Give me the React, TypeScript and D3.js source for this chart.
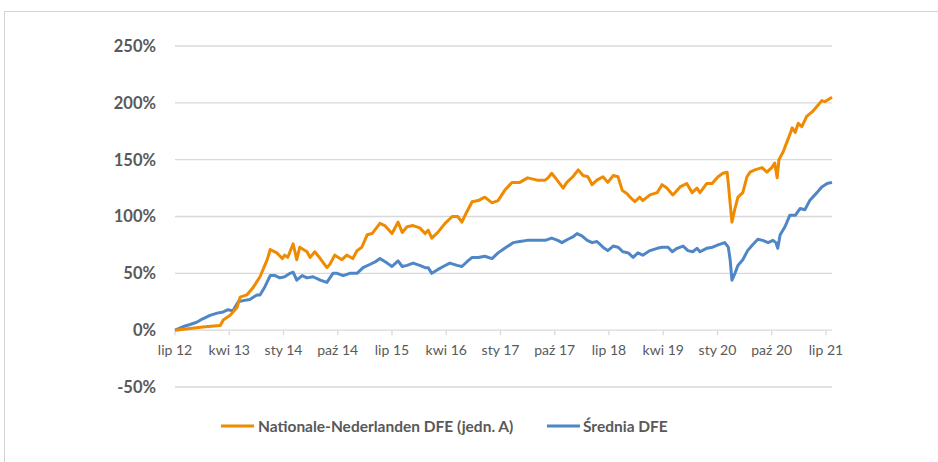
import React from "react";
import * as d3 from "d3";

// month index: 0 = lip 2012 (July 2012)
const nnSeries: [number, number][] = [
  [0, 0], [2.5, 1.5], [5.0, 3], [7.5, 4], [8.0, 9], [9.1, 13], [10.3, 20], [10.8, 29],
  [11.9, 31], [12.9, 37], [14.1, 47], [15.3, 62], [15.8, 71], [16.9, 68], [17.8, 63],
  [18.2, 66], [18.7, 64], [19.6, 76], [20.2, 62], [20.7, 73], [21.9, 69], [22.4, 64],
  [23.2, 69], [24.1, 63], [25.2, 55], [25.7, 58], [26.5, 66], [27.7, 62], [28.5, 66],
  [29.5, 63], [30.2, 70], [31.0, 73], [31.9, 84], [32.7, 85], [34.0, 94], [34.8, 92],
  [36.0, 85], [37.0, 95], [37.7, 86], [38.5, 91], [39.5, 92], [40.6, 90], [41.5, 85],
  [42.0, 88], [42.6, 81], [43.6, 86], [44.8, 94], [46.0, 100], [46.9, 100], [47.6, 95],
  [48.4, 104], [49.3, 113], [50.3, 114], [51.4, 117], [52.6, 112], [53.6, 114],
  [54.7, 123], [55.9, 130], [57.2, 130], [58.5, 134], [60.1, 132], [61.4, 132],
  [61.9, 134], [62.5, 138], [63.4, 132], [64.4, 125], [65.0, 130], [66.0, 135],
  [66.9, 141], [67.7, 136], [68.5, 135], [69.2, 128], [70.0, 132], [71.0, 135],
  [71.8, 130], [72.7, 136], [73.5, 135], [74.2, 123], [75.0, 120], [75.5, 117],
  [76.3, 113], [77.1, 117], [77.6, 114], [78.8, 119], [80.0, 121], [80.8, 128],
  [81.6, 125], [82.6, 119], [83.8, 126], [84.9, 129], [85.8, 121], [86.6, 125],
  [87.1, 121], [88.2, 129], [89.1, 129], [90.1, 135], [90.9, 138], [91.6, 139],
  [91.8, 129], [92.2, 106], [92.4, 95], [92.9, 107], [93.4, 117], [94.2, 121],
  [94.9, 135], [95.4, 139], [96.2, 141], [97.4, 143], [98.2, 139], [99.0, 143],
  [99.5, 147], [99.9, 134], [100.2, 150], [100.9, 157], [101.2, 161], [102.0, 172],
  [102.4, 178], [102.9, 174], [103.4, 182], [104.0, 179], [104.8, 188], [105.7, 192],
  [106.7, 198], [107.3, 202], [107.8, 201], [109.0, 205],
];

const avgSeries: [number, number][] = [
  [0, 0], [1.3, 3], [2.5, 5], [3.6, 7], [4.6, 10], [5.8, 13], [7.0, 15], [8.0, 16],
  [8.8, 18], [9.6, 17], [10.5, 25], [11.3, 26], [12.4, 27], [13.6, 31], [14.1, 31],
  [14.9, 38], [15.8, 48], [16.6, 48], [17.4, 46], [18.2, 47], [19.1, 50], [19.6, 51],
  [20.2, 44], [21.1, 48], [21.9, 46], [22.9, 47], [24.1, 44], [25.2, 42], [26.2, 50],
  [26.9, 50], [27.9, 48], [29.0, 50], [30.2, 50], [31.2, 55], [32.4, 58], [33.2, 60],
  [34.0, 63], [35.2, 59], [36.0, 56], [37.0, 61], [37.7, 56], [38.5, 57], [39.5, 59],
  [40.6, 57], [41.5, 55], [42.0, 55], [42.6, 50], [43.5, 53], [44.5, 56], [45.6, 59],
  [46.8, 57], [47.6, 56], [48.4, 60], [49.3, 64], [50.3, 64], [51.4, 65], [52.6, 63],
  [53.6, 68], [54.7, 72], [56.1, 77], [57.2, 78], [58.4, 79], [60.1, 79], [61.4, 79],
  [62.5, 81], [63.5, 79], [64.2, 77], [65.2, 80], [66.0, 82], [66.7, 85], [67.5, 83],
  [68.4, 79], [69.2, 77], [70.0, 78], [71.0, 73], [71.8, 70], [72.7, 74], [73.5, 73],
  [74.3, 69], [75.2, 68], [76.0, 64], [76.8, 68], [77.6, 66], [78.8, 70], [80.0, 72],
  [80.8, 73], [81.8, 73], [82.5, 69], [83.3, 72], [84.3, 74], [85.1, 70], [85.9, 69],
  [86.6, 72], [87.1, 69], [88.2, 72], [89.2, 73], [90.1, 75], [91.2, 77], [91.8, 73],
  [92.1, 62], [92.4, 44], [92.9, 50], [93.4, 57], [94.2, 62], [95.0, 70], [95.8, 75],
  [96.7, 80], [97.5, 79], [98.4, 77], [99.2, 79], [99.7, 77], [100.0, 72], [100.4, 84],
  [101.2, 91], [102.0, 101], [102.9, 101], [103.7, 107], [104.5, 106], [105.3, 114],
  [106.5, 121], [107.3, 126], [108.2, 129], [109.0, 130],
];

const yTicks = [-50, 0, 50, 100, 150, 200, 250];
const xTickMonths = [0, 9, 18, 27, 36, 45, 54, 63, 72, 81, 90, 99, 108];
const monthNames = ["sty", "lut", "mar", "kwi", "maj", "cze", "lip", "sie", "wrz", "paź", "lis", "gru"];
const seriesNames = ["Nationale-Nederlanden DFE (jedn. A)", "Średnia DFE"];
const seriesColors = ["#F08A00", "#4F86C6"];

function monthLabel(i: number): string {
  const total = 6 + i;
  const m = total % 12;
  const y = 2012 + Math.floor(total / 12);
  return `${monthNames[m]} ${String(y).slice(2)}`;
}

export default function App() {
  const W = 938;
  const H = 462;
  const x = d3.scaleLinear().domain([0, 109]).range([175, 832]);
  const y = d3.scaleLinear().domain([-50, 250]).range([387, 46]);
  const line = d3
    .line<[number, number]>()
    .x((d) => x(d[0]))
    .y((d) => y(d[1]));
  const font = "Lato, 'Open Sans', sans-serif";
  const grid = "#d9d9d9";
  const txt = "#595959";

  return (
    <svg
      width={W}
      height={H}
      style={{ position: "absolute", left: 0, top: 0, background: "#fff" }}
      fontFamily={font}
    >
      <rect x={4.5} y={11.5} width={W + 10} height={H + 10} fill="#fff" stroke="#d4d4d4" strokeWidth={1} />
      {yTicks.map((t) => (
        <g key={t}>
          <line x1={x(0)} x2={x(109)} y1={y(t)} y2={y(t)} stroke={grid} strokeWidth={1.3} />
          <text
            x={156}
            y={y(t)}
            dy="0.36em"
            textAnchor="end"
            fontSize={16.5}
            fontWeight={700}
            fill={txt}
          >
            {`${t}%`}
          </text>
        </g>
      ))}
      {xTickMonths.map((m) => (
        <g key={m}>
          <line x1={x(m)} x2={x(m)} y1={y(0)} y2={y(0) + 5} stroke={grid} strokeWidth={1.3} />
          <text x={x(m)} y={355} textAnchor="middle" fontSize={14} fill={txt}>
            {monthLabel(m)}
          </text>
        </g>
      ))}
      <path d={line(avgSeries) || ""} fill="none" stroke={seriesColors[1]} strokeWidth={3} strokeLinejoin="round" />
      <path d={line(nnSeries) || ""} fill="none" stroke={seriesColors[0]} strokeWidth={3} strokeLinejoin="round" />
      <g>
        <line x1={221} x2={254} y1={426} y2={426} stroke={seriesColors[0]} strokeWidth={3} />
        <text x={258} y={431.5} fontSize={15.5} fontWeight={700} fill={txt}>
          {seriesNames[0]}
        </text>
        <line x1={547} x2={580} y1={426} y2={426} stroke={seriesColors[1]} strokeWidth={3} />
        <text x={583} y={431.5} fontSize={15.5} fontWeight={700} fill={txt}>
          {seriesNames[1]}
        </text>
      </g>
    </svg>
  );
}
